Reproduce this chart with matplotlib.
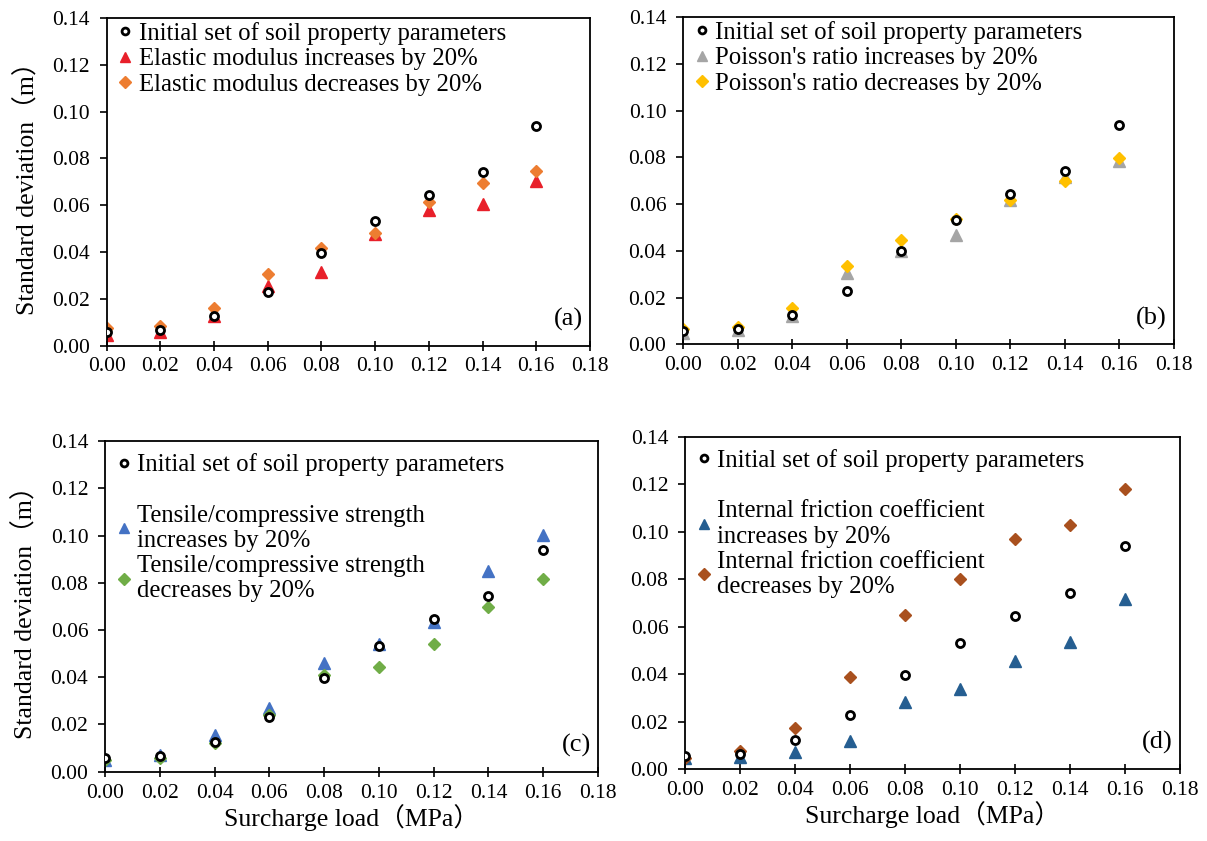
import numpy as np
import matplotlib.pyplot as plt
from matplotlib.lines import Line2D

plt.rcParams['font.family'] = ['Liberation Serif', 'Noto Sans CJK SC']

# surcharge load (MPa)
load = [0.00, 0.02, 0.04, 0.06, 0.08, 0.10, 0.12, 0.14, 0.16]

# initial set of soil property parameters
initial = [0.0057, 0.0066, 0.0125, 0.0230, 0.0397, 0.0531, 0.0645, 0.0743, 0.0939]

# (a) elastic modulus
e_up = [0.0046, 0.0057, 0.0127, 0.0253, 0.0314, 0.0477, 0.0581, 0.0606, 0.0703]
e_down = [0.0074, 0.0084, 0.0160, 0.0304, 0.0416, 0.0480, 0.0613, 0.0696, 0.0746]

# (b) Poisson's ratio
p_up = [0.0047, 0.0061, 0.0120, 0.0304, 0.0397, 0.0469, 0.0619, 0.0716, 0.0783]
p_down = [0.0064, 0.0076, 0.0154, 0.0333, 0.0447, 0.0536, 0.0619, 0.0700, 0.0797]

# (c) tensile/compressive strength
t_up = [0.0049, 0.0070, 0.0155, 0.0271, 0.0462, 0.0540, 0.0635, 0.0850, 0.1002]
t_down = [0.0049, 0.0056, 0.0123, 0.0240, 0.0410, 0.0442, 0.0541, 0.0699, 0.0814]

# (d) internal friction coefficient
f_up = [0.0046, 0.0053, 0.0074, 0.0120, 0.0285, 0.0338, 0.0457, 0.0534, 0.0715]
f_down = [0.0046, 0.0077, 0.0172, 0.0390, 0.0648, 0.0800, 0.0968, 0.1030, 0.1178]

panels = [
    ('(a)', [0.0884, 0.589, 0.4004, 0.3897],
     e_up, '#E8202A', 'Elastic modulus increases by 20%',
     e_down, '#ED7D31', 'Elastic modulus decreases by 20%', False),
    ('(b)', [0.5659, 0.5906, 0.4065, 0.3892],
     p_up, '#A5A5A5', "Poisson's ratio increases by 20%",
     p_down, '#FFC000', "Poisson's ratio decreases by 20%", False),
    ('(c)', [0.087, 0.0824, 0.4085, 0.3932],
     t_up, '#4472C4', 'Tensile/compressive strength\nincreases by 20%',
     t_down, '#70AD47', 'Tensile/compressive strength\ndecreases by 20%', True),
    ('(d)', [0.5675, 0.0853, 0.4101, 0.3955],
     f_up, '#255E91', 'Internal friction coefficient\nincreases by 20%',
     f_down, '#A9501E', 'Internal friction coefficient\ndecreases by 20%', True),
]

fig = plt.figure(figsize=(12.07, 8.41), dpi=100)

for i, (tag, pos, up, cup, lup, down, cdown, ldown, gap) in enumerate(panels):
    ax = fig.add_axes(pos)
    h0, = ax.plot(load, initial, 'o', mfc='white', mec='black', mew=2.0, ms=5.8,
                  linestyle='none', label='Initial set of soil property parameters', zorder=3)
    h1, = ax.plot(load, up, '^', color=cup, ms=8.6, linestyle='none', label=lup, zorder=2)
    h2, = ax.plot(load, down, 'D', color=cdown, ms=6.6, linestyle='none', label=ldown, zorder=2)

    ax.set_xlim(0, 0.18)
    ax.set_ylim(0, 0.14)
    ax.set_xticks(np.arange(0, 0.181, 0.02))
    ax.set_yticks(np.arange(0, 0.141, 0.02))
    ax.xaxis.set_major_formatter(plt.FormatStrFormatter('%.2f'))
    ax.yaxis.set_major_formatter(plt.FormatStrFormatter('%.2f'))
    ax.tick_params(axis='x', direction='inout', length=7, width=1.2, pad=5, labelsize=15.5)
    ax.tick_params(axis='y', direction='out', length=5, width=1.2, pad=7, labelsize=15.5)
    for s in ax.spines.values():
        s.set_linewidth(1.3)

    handles = [h0, h1, h2]
    labels = [h.get_label() for h in handles]
    if gap:
        # empty row between the first entry and the others
        blank = Line2D([], [], linestyle='none')
        handles.insert(1, blank)
        labels.insert(1, ' ')
    ax.legend(handles, labels, loc='upper left', frameon=False, fontsize=17.8,
              handlelength=0.5, handletextpad=0.3, labelspacing=0.12,
              markerscale=0.85, borderaxespad=0, borderpad=0.5,
              bbox_to_anchor=(0.0, 1.0 if gap else 1.025))

    ax.text(0.985, 0.045, tag, transform=ax.transAxes, ha='right', va='bottom', fontsize=19)

    if i % 2 == 0:
        ax.set_ylabel('Standard deviation（m）', fontsize=18.5, labelpad=9)
    if i >= 2:
        ax.set_xlabel('Surcharge load（MPa）', fontsize=18.5, labelpad=1)

fig.savefig('out.png', dpi=100)
